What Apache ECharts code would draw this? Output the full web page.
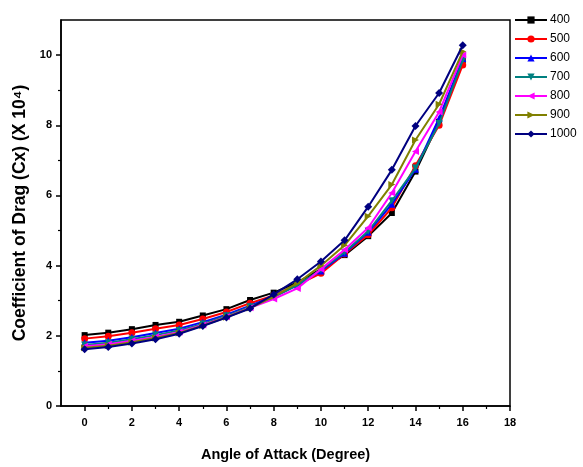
<!DOCTYPE html>
<html>
<head>
<meta charset="utf-8">
<script src="https://cdn.jsdelivr.net/npm/echarts@6/dist/echarts.min.js"></script>
<style>
  html, body { margin: 0; padding: 0; background: #fff; }
  #chart { width: 583px; height: 467px; }
</style>
</head>
<body>
<div id="chart"></div>
<script>
// Angle of attack (degrees)
const angles = [0, 1, 2, 3, 4, 5, 6, 7, 8, 9, 10, 11, 12, 13, 14, 15, 16];

// Drag coefficient (x 10^4) for each case
const cd400  = [2.02, 2.09, 2.19, 2.31, 2.40, 2.58, 2.76, 3.02, 3.23, 3.52, 3.90, 4.30, 4.84, 5.50, 6.68, 8.10, 9.85];
const cd500  = [1.92, 1.99, 2.09, 2.20, 2.31, 2.48, 2.68, 2.93, 3.15, 3.45, 3.78, 4.33, 4.88, 5.65, 6.85, 8.00, 9.72];
const cd600  = [1.80, 1.86, 1.96, 2.08, 2.20, 2.39, 2.60, 2.86, 3.12, 3.45, 3.85, 4.35, 4.95, 5.75, 6.75, 8.20, 9.90];
const cd700  = [1.74, 1.80, 1.90, 2.02, 2.15, 2.34, 2.57, 2.83, 3.10, 3.44, 3.88, 4.38, 4.98, 5.85, 6.78, 8.05, 9.85];
const cd800  = [1.70, 1.76, 1.86, 1.97, 2.11, 2.31, 2.54, 2.80, 3.05, 3.35, 3.90, 4.45, 5.08, 6.07, 7.25, 8.38, 10.00];
const cd900  = [1.66, 1.72, 1.82, 1.94, 2.08, 2.29, 2.53, 2.79, 3.12, 3.50, 4.00, 4.58, 5.41, 6.31, 7.58, 8.60, 10.10];
const cd1000 = [1.62, 1.68, 1.78, 1.90, 2.06, 2.28, 2.52, 2.78, 3.18, 3.61, 4.12, 4.72, 5.68, 6.73, 7.98, 8.92, 10.28];

const seriesNames = ['400', '500', '600', '700', '800', '900', '1000'];
const seriesData = [cd400, cd500, cd600, cd700, cd800, cd900, cd1000];

// Tick positions
const xMajorTicks = [0, 2, 4, 6, 8, 10, 12, 14, 16, 18];
const xMinorTicks = [1, 3, 5, 7, 9, 11, 13, 15, 17];
const yMajorTicks = [0, 2, 4, 6, 8, 10];
const yMinorTicks = [1, 3, 5, 7, 9];

const colors = ['#000000', '#ff0000', '#0000ff', '#008080', '#ff00ff', '#808000', '#000080'];
const symbols = ['rect', 'circle', 'triangle', 'triangle', 'triangle', 'triangle', 'diamond'];
const rotations = [0, 0, 0, 180, 90, -90, 0];
const sizes = [6, 7, 7, 7, 7, 7, 8];

const font = 'Liberation Sans, Arial, sans-serif';

const series = seriesNames.map((name, i) => ({
  name: name,
  type: 'line',
  xAxisIndex: 0,
  yAxisIndex: 0,
  data: angles.map((a, k) => [a, seriesData[i][k]]),
  symbol: symbols[i],
  symbolSize: sizes[i],
  symbolRotate: rotations[i],
  lineStyle: { color: colors[i], width: 2 },
  itemStyle: { color: colors[i] },
  z: 2 + i
}));

const chart = echarts.init(document.getElementById('chart'), null, { renderer: 'canvas' });
chart.setOption({
  animation: false,
  backgroundColor: '#ffffff',
  grid: {
    left: 61, right: 73, top: 20, bottom: 60,
    show: true, borderColor: '#000', borderWidth: 1.5, backgroundColor: 'transparent'
  },
  legend: {
    orient: 'vertical',
    left: 509,
    top: 8,
    itemWidth: 32,
    itemHeight: 9,
    itemGap: 5,
    textStyle: { color: '#000', fontSize: 12, lineHeight: 14, fontFamily: font, padding: [0, 0, 0, -2] },
    data: seriesNames
  },
  xAxis: [
    {
      type: 'value',
      min: -1, max: 18,
      name: 'Angle of Attack (Degree)',
      nameLocation: 'middle',
      nameGap: 41,
      nameTextStyle: { color: '#000', fontSize: 14.5, fontWeight: 'bold', fontFamily: font },
      axisLine: { show: true, onZero: false, lineStyle: { color: '#000', width: 1.5 } },
      axisTick: { show: true, inside: false, length: 5, customValues: xMajorTicks, lineStyle: { color: '#000', width: 1.5 } },
      axisLabel: { show: true, customValues: xMajorTicks, color: '#000', fontSize: 11, fontWeight: 'bold', fontFamily: font, margin: 11 },
      splitLine: { show: false }
    },
    {
      type: 'value',
      min: -1, max: 18,
      position: 'bottom',
      axisLine: { show: false, onZero: false },
      axisTick: { show: true, inside: false, length: 3, customValues: xMinorTicks, lineStyle: { color: '#000', width: 1.2 } },
      axisLabel: { show: false },
      splitLine: { show: false }
    }
  ],
  yAxis: [
    {
      type: 'value',
      min: 0, max: 11,
      name: 'Coefficient of Drag (Cx) (X 10\u2074)',
      nameLocation: 'middle',
      nameGap: 29,
      nameTextStyle: { color: '#000', fontSize: 17.5, fontWeight: 'bold', fontFamily: font },
      axisLine: { show: true, onZero: false, lineStyle: { color: '#000', width: 1.5 } },
      axisTick: { show: true, inside: false, length: 5, customValues: yMajorTicks, lineStyle: { color: '#000', width: 1.5 } },
      axisLabel: { show: true, customValues: yMajorTicks, color: '#000', fontSize: 11, fontWeight: 'bold', fontFamily: font, margin: 9 },
      splitLine: { show: false }
    },
    {
      type: 'value',
      min: 0, max: 11,
      position: 'left',
      axisLine: { show: false, onZero: false },
      axisTick: { show: true, inside: false, length: 3, customValues: yMinorTicks, lineStyle: { color: '#000', width: 1.2 } },
      axisLabel: { show: false },
      splitLine: { show: false }
    }
  ],
  series: series
});
</script>
</body>
</html>
